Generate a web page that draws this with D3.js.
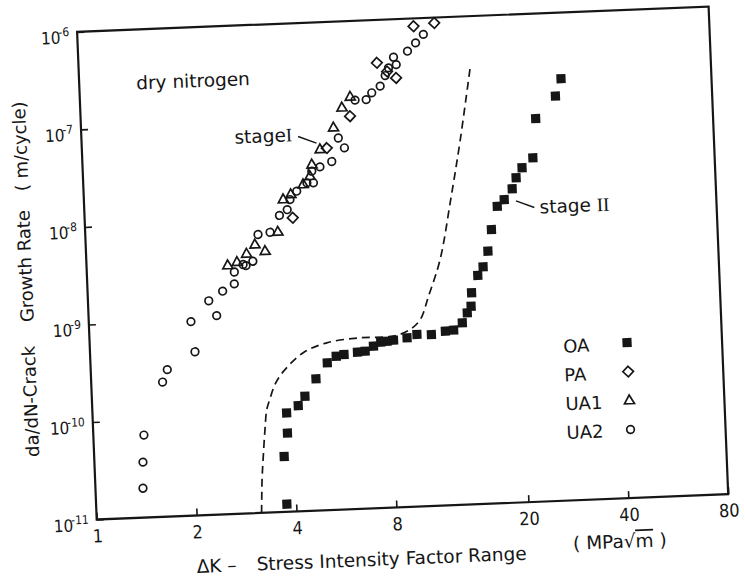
<!DOCTYPE html>
<html>
<head>
<meta charset="utf-8">
<script src="https://cdn.jsdelivr.net/npm/d3@7"></script>
<style>
body { margin: 0; background: #fff; }
text { font-family: "DejaVu Sans", sans-serif; fill: #161616; }
.num { font-family: "DejaVu Sans Condensed", "DejaVu Sans", sans-serif; font-stretch: condensed; }
</style>
</head>
<body>
<script>
// Crack growth rate da/dN (m/cycle) against stress intensity range (MPa sqrt m)
// values, [deltaK, rate]
var oaData = [[3.75, 1.2e-11], [3.73, 3.7e-11], [3.84, 6.4e-11],
    [3.84, 1.03e-10], [4.17, 1.21e-10], [4.38, 1.5e-10], [4.75, 2.24e-10],
    [5.16, 3.23e-10], [5.5, 3.74e-10], [5.81, 3.87e-10], [6.38, 4.04e-10],
    [6.73, 4.1e-10], [7.14, 4.58e-10], [7.52, 5.0e-10], [7.85, 5.08e-10],
    [8.22, 5.17e-10], [9.03, 5.4e-10], [9.68, 5.79e-10], [10.7, 5.7e-10],
    [11.8, 6.1e-10], [12.5, 6.2e-10], [13.3, 7.3e-10], [13.8, 9.2e-10],
    [14.2, 1.07e-9], [14.3, 1.47e-9], [15.0, 2.2e-9], [15.6, 2.68e-9],
    [16.2, 3.86e-9], [16.7, 6.4e-9], [17.5, 1.1e-8], [18.4, 1.28e-8],
    [19.5, 1.64e-8], [20.1, 2.12e-8], [21.0, 2.67e-8], [22.7, 3.34e-8],
    [23.4, 8.4e-8], [27.0, 1.4e-7], [28.2, 2.1e-7]];

var paData = [[4.23, 1.02e-8], [5.46, 5.1e-8], [6.47, 1.06e-7],
    [7.91, 3.63e-7], [8.47, 2.93e-7], [9.0, 2.5e-7], [10.3, 8.3e-7],
    [11.9, 8.8e-7]];

var ua1Data = [[2.66, 3.52e-9], [2.84, 3.77e-9], [3.04, 4.55e-9],
    [3.23, 5.6e-9], [3.46, 4.76e-9], [3.8, 7.4e-9], [3.98, 1.58e-8],
    [4.2, 1.77e-8], [4.59, 2.21e-8], [4.82, 2.67e-8], [4.9, 3.5e-8],
    [5.21, 4.97e-8], [5.75, 8.2e-8], [6.13, 1.3e-7], [6.51, 1.67e-7]];

var ua2Data = [[1.42, 7.0e-11], [1.40, 3.7e-11], [1.39, 2.0e-11],
    [1.64, 2.4e-10], [1.70, 3.2e-10], [2.07, 4.75e-10], [2.03, 9.7e-10],
    [2.43, 1.09e-9], [2.31, 1.56e-9], [2.55, 1.93e-9], [2.77, 2.27e-9],
    [2.78, 3.0e-9], [3.02, 3.45e-9], [2.96, 3.55e-9], [3.17, 3.8e-9],
    [3.31, 7.1e-9], [3.6, 7.4e-9], [3.86, 1.09e-8], [4.08, 1.24e-8],
    [4.17, 1.57e-8], [4.38, 1.9e-8], [4.71, 2.29e-8], [4.93, 2.28e-8],
    [4.89, 3.0e-8], [5.18, 3.3e-8], [5.63, 3.7e-8], [6.17, 5.05e-8],
    [5.93, 6.4e-8], [6.73, 1.54e-7], [7.27, 1.54e-7], [7.57, 1.8e-7],
    [8.04, 2.09e-7], [8.35, 2.67e-7], [8.56, 3.19e-7], [8.89, 4.08e-7],
    [9.04, 3.42e-7], [9.81, 4.64e-7], [10.4, 5.6e-7], [11.0, 6.8e-7]];

// dashed curve
var curveData = [[3.14, 1e-11], [3.18, 2.2e-11], [3.22, 3.5e-11],
    [3.29, 7.1e-11], [3.35, 1.14e-10], [3.43, 1.44e-10], [3.57, 2.04e-10],
    [3.80, 2.75e-10], [4.38, 4.19e-10], [5.17, 5.18e-10], [6.53, 5.65e-10],
    [8.22, 5.69e-10], [9.25, 6.56e-10], [9.95, 8.2e-10], [10.6, 1.41e-9],
    [11.6, 3.3e-9], [12.7, 1.35e-8], [13.8, 5.5e-8], [15.1, 3.07e-7]];

var xTicks = [1, 2, 4, 8, 20, 40, 80];
var yTicks = [1e-6, 1e-7, 1e-8, 1e-9, 1e-10, 1e-11];
var legendNames = ["OA", "PA", "UA1", "UA2"];

// plot box, the scan is turned a little so the whole box is rotated
var W = 632, H = 488;

var svg = d3.select("body").append("svg")
    .attr("width", 745)
    .attr("height", 583);

var g = svg.append("g")
    .attr("transform", "translate(96.7,519.5) rotate(-2.3) translate(0," + (-H) + ")");

var x = d3.scaleLog().domain([1, 80]).range([0, W]);
var y = d3.scaleLog().domain([1e-11, 1e-6]).range([H, 0]);

// axes, ticks point inward
var xAxis = d3.axisBottom(x).tickValues(xTicks).tickSize(-7).tickPadding(10)
    .tickFormat(d3.format("d"));
var yAxis = d3.axisLeft(y).tickValues(yTicks).tickSize(-7).tickPadding(8)
    .tickFormat(function() { return ""; });

var gx = g.append("g").attr("transform", "translate(0," + H + ")").call(xAxis);
gx.select(".domain").remove();
gx.selectAll(".tick line").attr("stroke", "#161616").attr("stroke-width", 1.6);
gx.selectAll(".tick text")
    .attr("class", "num")
    .attr("font-size", "18px")
    .attr("font-family", null)
    .attr("fill", "#161616");

var gy = g.append("g").call(yAxis);
gy.select(".domain").remove();
gy.selectAll(".tick line").attr("stroke", "#161616").attr("stroke-width", 1.6);
gy.selectAll(".tick text")
    .attr("class", "num")
    .attr("font-size", "17px")
    .attr("font-family", null)
    .attr("fill", "#161616")
    .attr("dy", "0.62em")
    .each(function(d) {
        var t = d3.select(this);
        var e = Math.round(Math.log10(d));
        t.append("tspan").text("10");
        t.append("tspan").attr("dx", "-2").attr("dy", "-0.6em")
            .attr("font-size", "12px")
            .text("-" + (-e));
    });

// frame
g.append("rect")
    .attr("width", W)
    .attr("height", H)
    .attr("fill", "none")
    .attr("stroke", "#161616")
    .attr("stroke-width", 2.2);

// dashed line
var line = d3.line()
    .x(function(d) { return x(d[0]); })
    .y(function(d) { return y(d[1]); })
    .curve(d3.curveCatmullRom.alpha(0.5));

g.append("path")
    .datum(curveData)
    .attr("d", line)
    .attr("fill", "none")
    .attr("stroke", "#161616")
    .attr("stroke-width", 1.7)
    .attr("stroke-dasharray", "8,5");

// marker shapes
function drawMark(sel, shape) {
    if (shape == "square") {
        sel.append("rect").attr("x", -4.6).attr("y", -4.6)
            .attr("width", 9.2).attr("height", 9.2).attr("fill", "#161616");
    } else if (shape == "diamond") {
        sel.append("path").attr("d", "M0,-5.3L5.3,0L0,5.3L-5.3,0Z")
            .attr("fill", "none").attr("stroke", "#161616").attr("stroke-width", 1.7);
    } else if (shape == "triangle") {
        sel.append("path").attr("d", "M0,-5.5L5,3.2L-5,3.2Z")
            .attr("fill", "none").attr("stroke", "#161616").attr("stroke-width", 1.7);
    } else {
        sel.append("circle").attr("r", 3.8)
            .attr("fill", "none").attr("stroke", "#161616").attr("stroke-width", 1.7);
    }
}

var series = [
    {data: ua2Data, shape: "circle"},
    {data: ua1Data, shape: "triangle"},
    {data: paData, shape: "diamond"},
    {data: oaData, shape: "square"}
];

series.forEach(function(s) {
    g.append("g").selectAll("g")
        .data(s.data)
        .enter()
        .append("g")
        .attr("transform", function(d) {
            return "translate(" + x(d[0]) + "," + y(d[1]) + ")";
        })
        .each(function() { drawMark(d3.select(this), s.shape); });
});

// legend
var legendShapes = ["square", "diamond", "triangle", "circle"];
legendNames.forEach(function(name, i) {
    g.append("text")
        .attr("x", 473)
        .attr("y", 340 + i * 28.8)
        .attr("font-size", "18px")
        .text(name);
    var m = g.append("g")
        .attr("transform", "translate(537," + (332.5 + i * 29) + ")");
    drawMark(m, legendShapes[i]);
});

// annotations
g.append("text").attr("x", 57).attr("y", 60).attr("font-size", "18.5px")
    .text("dry nitrogen");

var s1 = g.append("text").attr("x", 153).attr("y", 118).attr("font-size", "18.5px");
s1.append("tspan").text("stage");
s1.append("tspan").attr("font-family", "Liberation Serif").attr("font-size", "19px")
    .text("I");
g.append("line").attr("x1", 216.6).attr("y1", 113.4).attr("x2", 234.7).attr("y2", 120.8)
    .attr("stroke", "#161616").attr("stroke-width", 1.4);

var s2 = g.append("text").attr("x", 455).attr("y", 200).attr("font-size", "18.5px");
s2.append("tspan").text("stage ");
s2.append("tspan").attr("font-family", "Liberation Serif").attr("font-size", "19px")
    .text("II");
g.append("line").attr("x1", 431.7).attr("y1", 186.5).attr("x2", 449.8).attr("y2", 193.8)
    .attr("stroke", "#161616").attr("stroke-width", 1.4);

// axis titles
g.append("text").attr("x", 98).attr("y", 545.5).attr("font-size", "18.5px")
    .text("\u0394K \u2013");
g.append("text").attr("x", 158).attr("y", 545.5).attr("font-size", "18.5px")
    .text("Stress Intensity Factor Range");
var unit = g.append("text").attr("x", 475).attr("y", 537.5).attr("font-size", "18.5px");
unit.append("tspan").text("( MPa\u221A");
unit.append("tspan").style("text-decoration", "overline").text("m");
unit.append("tspan").text(" )");

var yTitles = [["da/dN-Crack", 423], ["Growth Rate", 288], ["( m/cycle)", 157]];
yTitles.forEach(function(t) {
    g.append("text")
        .attr("transform", "translate(-55," + t[1] + ") rotate(-90)")
        .attr("font-size", "18px")
        .text(t[0]);
});
</script>
</body>
</html>
